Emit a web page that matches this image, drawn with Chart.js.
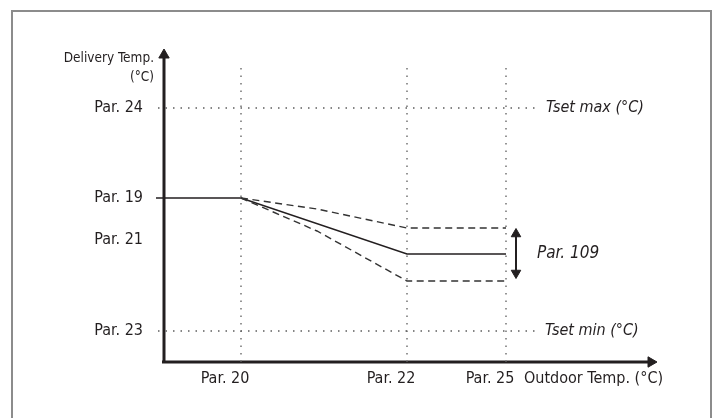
<!DOCTYPE html>
<html>
<head>
<meta charset="utf-8">
<script src="https://cdn.jsdelivr.net/npm/chart.js@4.4.1/dist/chart.umd.min.js"></script>
<style>
html, body { margin: 0; padding: 0; background: #fff; }
#wrap { position: relative; width: 721px; height: 418px; overflow: hidden; }
#frame { position: absolute; left: 11px; top: 10px; width: 701px; height: 500px; border: 2px solid #8c8c8c; box-sizing: border-box; }
#chart { position: absolute; left: 0; top: 0; }
</style>
</head>
<body>
<div id="wrap"><div id="frame"></div><canvas id="chart" width="721" height="418"></canvas></div>
<script>
// outdoor temperature parameters (x) and delivery temperature parameters (y)
const xParLabels = ['Par. 20', 'Par. 22', 'Par. 25'];
const xParValues = [77, 243, 342];
const yParLabels = ['Par. 23', 'Par. 21', 'Par. 19', 'Par. 24'];
const yParValues = [31, 122, 164, 254];

// climatic curve: solid middle line and the Par. 109 band
const curveX = [-8, 77, 243, 342];
const curveY = [164, 164, 108, 108];
const bandX = [77, 153, 243, 342];
const bandUpper = [164, 153, 134, 134];
const bandLower = [164, 131, 81, 81];

// Par. 109 offset arrow
const offsetX = 352;
const offsetRange = [84, 133];

// Tset max / Tset min guide lines
const tsetX = [-6, 373];
const tsetMax = 254;
const tsetMin = 31;
const gridTop = 299;

const ink = '#231f20';
const font = "'Liberation Sans Narrow', 'DejaVu Sans Condensed', sans-serif";

function pts(xs, ys) {
	return xs.map((x, i) => ({ x: x, y: ys[i] }));
}

const dotted = { borderColor: '#5e5e5e', borderWidth: 1.3, borderDash: [1.5, 6], pointRadius: 0 };
const dashed = { borderColor: '#333', borderWidth: 1.4, borderDash: [7, 4.5], pointRadius: 0 };

const datasets = [];
// vertical guide lines at the outdoor parameters
xParValues.forEach(v => {
	datasets.push(Object.assign({ data: [{ x: v, y: 0 }, { x: v, y: gridTop }] }, dotted));
});
datasets.push(Object.assign({ data: pts(tsetX, [tsetMax, tsetMax]) }, dotted));
datasets.push(Object.assign({ data: pts(tsetX, [tsetMin, tsetMin]) }, dotted));
datasets.push(Object.assign({ data: pts(bandX, bandUpper) }, dashed));
datasets.push(Object.assign({ data: pts(bandX, bandLower) }, dashed));
datasets.push({ data: pts(curveX, curveY), borderColor: ink, borderWidth: 1.6, pointRadius: 0 });

// axes with arrow heads
datasets.push({
	data: [{ x: 0, y: 0 }, { x: 0, y: 307 }],
	borderColor: ink, borderWidth: 3,
	pointRadius: [0, 6], pointStyle: 'triangle', pointRotation: 0,
	pointBackgroundColor: ink, pointBorderColor: ink, pointBorderWidth: 1
});
datasets.push({
	data: [{ x: -2, y: 0 }, { x: 487, y: 0 }],
	borderColor: ink, borderWidth: 3,
	pointRadius: [0, 6], pointStyle: 'triangle', pointRotation: 90,
	pointBackgroundColor: ink, pointBorderColor: ink, pointBorderWidth: 1
});
// double arrow for Par. 109
datasets.push({
	data: [{ x: offsetX, y: offsetRange[0] + 5 }, { x: offsetX, y: offsetRange[1] - 5 }],
	borderColor: ink, borderWidth: 2,
	pointRadius: 5.5, pointStyle: 'triangle', pointRotation: [180, 0],
	pointBackgroundColor: ink, pointBorderColor: ink, pointBorderWidth: 1
});
datasets.forEach(d => { d.tension = 0; d.clip = false; });

const notes = {
	id: 'notes',
	afterDatasetsDraw(chart) {
		const ctx = chart.ctx;
		const xs = chart.scales.x, ys = chart.scales.y;
		function text(str, xv, yv, align, style) {
			ctx.save();
			ctx.font = style;
			ctx.fillStyle = ink;
			ctx.textAlign = align;
			ctx.textBaseline = 'middle';
			ctx.fillText(str, xs.getPixelForValue(xv), ys.getPixelForValue(yv));
			ctx.restore();
		}
		text('Delivery Temp.', -10, 304, 'right', '13.5px ' + font);
		text('(°C)', -10, 285, 'right', '13.5px ' + font);
		text('Tset max (°C)', 382, tsetMax, 'left', 'italic 16px ' + font);
		text('Tset min (°C)', 381, tsetMin, 'left', 'italic 16px ' + font);
		text('Par. 109', 373, curveY[curveY.length - 1], 'left', 'italic 17px ' + font);
		text('Outdoor Temp. (°C)', 360, -17, 'left', '16px ' + font);
	}
};

new Chart(document.getElementById('chart'), {
	type: 'line',
	data: { datasets: datasets },
	options: {
		responsive: false,
		animation: false,
		events: [],
		layout: { padding: { left: 0, right: 57, top: 42, bottom: 0 } },
		plugins: { legend: { display: false }, tooltip: { enabled: false } },
		scales: {
			x: {
				type: 'linear', min: -12, max: 500,
				grid: { display: false, drawTicks: false },
				border: { display: false },
				afterBuildTicks: s => { s.ticks = xParValues.map(v => ({ value: v })); },
				afterFit: s => { s.height = 54; },
				ticks: {
					autoSkip: false, maxRotation: 0, padding: 5, labelOffset: -16,
					color: ink, font: { family: font, size: 16 },
					callback: v => xParLabels[xParValues.indexOf(v)]
				}
			},
			y: {
				type: 'linear', min: -2, max: 320,
				grid: { display: false, drawTicks: false },
				border: { display: false },
				afterBuildTicks: s => { s.ticks = yParValues.map(v => ({ value: v })); },
				afterFit: s => { s.width = 152; },
				ticks: {
					autoSkip: false, padding: 9,
					color: ink, font: { family: font, size: 16 },
					callback: v => yParLabels[yParValues.indexOf(v)]
				}
			}
		}
	},
	plugins: [notes]
});
</script>
</body>
</html>
